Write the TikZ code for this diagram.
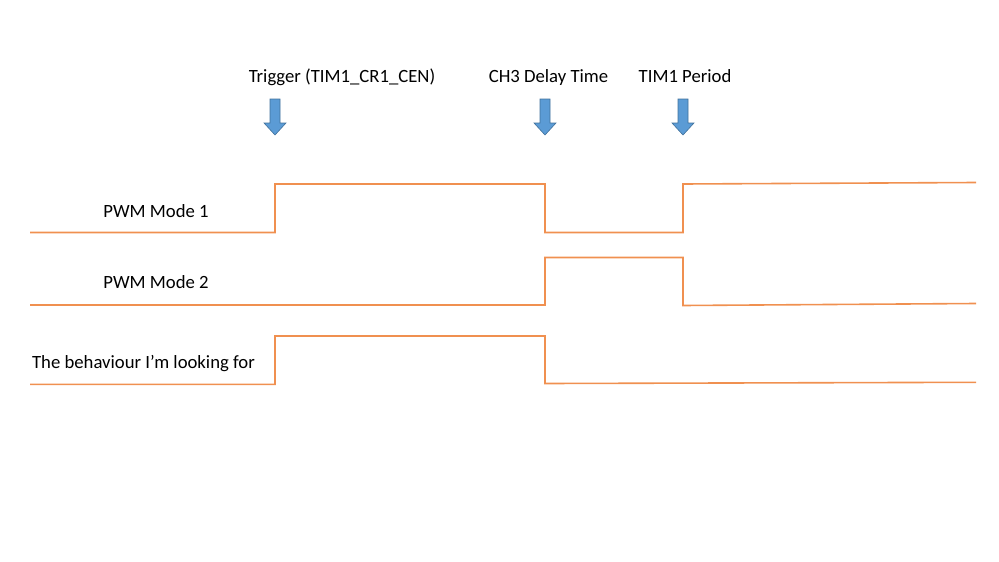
\documentclass[tikz,border=0pt]{standalone}
\usepackage{fontspec}
\setmainfont{Carlito}
\definecolor{wave}{HTML}{ED7D31}
\definecolor{arrfill}{HTML}{5B9BD5}
\definecolor{arrdraw}{HTML}{41719C}
\begin{document}
\begin{tikzpicture}[x=1pt,y=-1pt,
  lbl/.style={anchor=base,inner sep=0pt,font=\fontsize{18.7}{22}\selectfont},
  wavel/.style={draw=wave!85,line width=1.6pt,line join=miter},
  blockarrow/.style={fill=arrfill,draw=arrdraw,line width=0.6pt,line join=miter}]
\useasboundingbox (0,0) rectangle (999,562);
% labels
\node[lbl] (trig) at (342,82) {Trigger (TIM1\_CR1\_CEN)};
\node[lbl] (ch3) at (548.5,82) {CH3 Delay Time};
\node[lbl] (per) at (685,82) {TIM1 Period};
\node[lbl] (m1) at (156,217.5) {PWM Mode 1};
\node[lbl] (m2) at (156,288.5) {PWM Mode 2};
\node[lbl] (beh) at (143.5,368.3) {The behaviour I’m looking for};
% arrows
\foreach \c/\n in {275/a1,545/a2,683/a3}{
  \draw[blockarrow] (\c-5,99) -- (\c+5,99) -- (\c+5,123) -- (\c+11,123) -- (\c,135)
    -- (\c-11,123) -- (\c-5,123) -- cycle;
}
% waveforms
\draw[wavel] (30,232.5) -- (275,232.5) -- (275,184) -- (545,184) -- (545,232.5)
  -- (683,232.5) -- (683,184) -- (976,182.5);
\draw[wavel] (30,305) -- (545,305) -- (545,257.5) -- (683,257.5) -- (683,305.5)
  -- (976,303.5);
\draw[wavel] (30,384.3) -- (275,384.3) -- (275,336) -- (545,336) -- (545,383.5)
  -- (976,382.3);
\end{tikzpicture}
\end{document}
